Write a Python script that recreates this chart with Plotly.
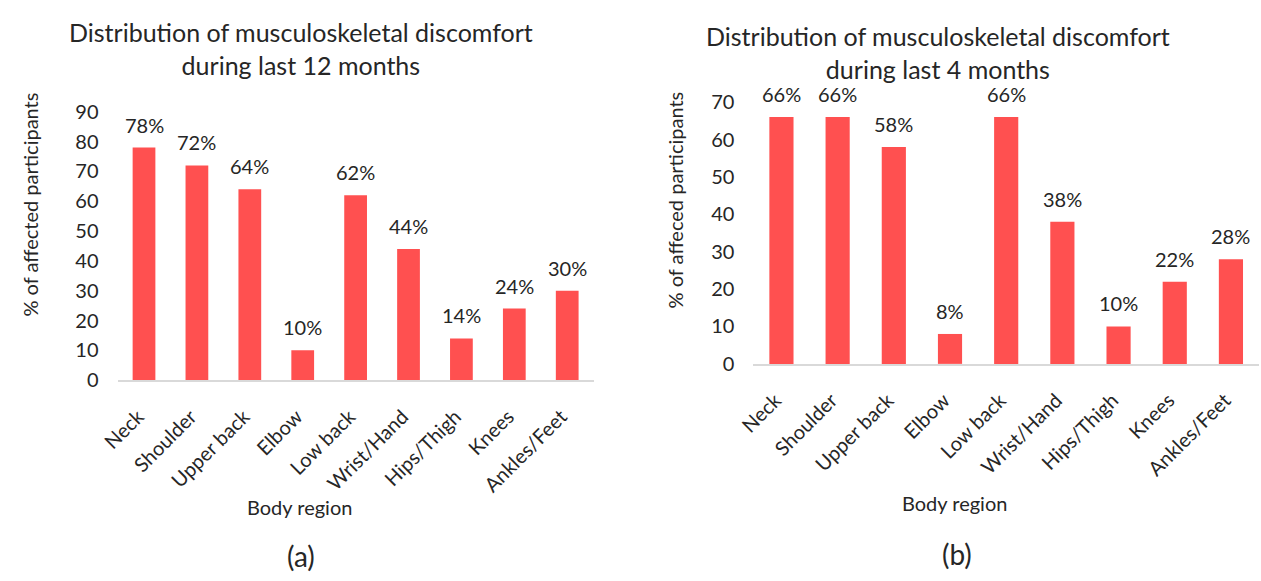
import plotly.graph_objects as go

regions = ["Neck", "Shoulder", "Upper back", "Elbow", "Low back",
           "Wrist/Hand", "Hips/Thigh", "Knees", "Ankles/Feet"]
pct_12_months = [78, 72, 64, 10, 62, 44, 14, 24, 30]
pct_4_months = [66, 66, 58, 8, 66, 38, 10, 22, 28]

title_a = "Distribution of musculoskeletal discomfort<br>during last 12 months"
title_b = "Distribution of musculoskeletal discomfort<br>during last 4 months"
ytitle_a = "% of affected participants"
ytitle_b = "% of affeced participants"
xtitle = "Body region"
ticks_a = [0, 10, 20, 30, 40, 50, 60, 70, 80, 90]
ticks_b = [0, 10, 20, 30, 40, 50, 60, 70]

W, H = 1261, 581
FONT = "Lato"
TXT = "#262626"
BAR = "#FF5050"

def px(x):
    return x / W

def py(y):
    return (H - y) / H

fig = go.Figure()
fig.add_trace(go.Bar(x=regions, y=pct_12_months, marker_color=BAR,
                     marker_line_width=0, xaxis="x", yaxis="y", showlegend=False))
fig.add_trace(go.Bar(x=regions, y=pct_4_months, marker_color=BAR,
                     marker_line_width=0, xaxis="x2", yaxis="y2", showlegend=False))

annotations = []
for r, v in zip(regions, pct_12_months):
    annotations.append(dict(x=r, y=v, xref="x", yref="y", text=f"{v}%",
                            showarrow=False, yanchor="bottom", yshift=9,
                            font=dict(family=FONT, size=20, color=TXT)))
for r, v in zip(regions, pct_4_months):
    annotations.append(dict(x=r, y=v, xref="x2", yref="y2", text=f"{v}%",
                            showarrow=False, yanchor="bottom", yshift=9,
                            font=dict(family=FONT, size=20, color=TXT)))

# titles
annotations += [
    dict(x=px(287), y=py(37), xref="paper", yref="paper", text=title_a,
         showarrow=False, xanchor="center", yanchor="middle",
         font=dict(family=FONT, size=25, color=TXT)),
    dict(x=px(933), y=py(41), xref="paper", yref="paper", text=title_b,
         showarrow=False, xanchor="center", yanchor="middle",
         font=dict(family=FONT, size=25, color=TXT)),
    dict(x=px(12), y=py(200), xref="paper", yref="paper", text=ytitle_a,
         showarrow=False, textangle=-90, xanchor="center", yanchor="middle",
         font=dict(family=FONT, size=20, color=TXT)),
    dict(x=px(666), y=py(195), xref="paper", yref="paper", text=ytitle_b,
         showarrow=False, textangle=-90, xanchor="center", yanchor="middle",
         font=dict(family=FONT, size=20, color=TXT)),
    dict(x=px(286), y=py(515), xref="paper", yref="paper", text=xtitle,
         showarrow=False, xanchor="center", yanchor="middle",
         font=dict(family=FONT, size=20, color=TXT)),
    dict(x=px(950), y=py(511), xref="paper", yref="paper", text=xtitle,
         showarrow=False, xanchor="center", yanchor="middle",
         font=dict(family=FONT, size=20, color=TXT)),
    dict(x=px(287), y=py(566), xref="paper", yref="paper", text="(a)",
         showarrow=False, xanchor="center", yanchor="middle",
         font=dict(family=FONT, size=28, color=TXT)),
    dict(x=px(953), y=py(564), xref="paper", yref="paper", text="(b)",
         showarrow=False, xanchor="center", yanchor="middle",
         font=dict(family=FONT, size=28, color=TXT)),
]

xaxis_common = dict(type="category", showgrid=False, zeroline=False,
                    showline=True, linecolor="#D9D9D9", linewidth=2,
                    tickangle=-45, ticks="outside", ticklen=15,
                    tickcolor="rgba(0,0,0,0)", ticklabelshift=-6,
                    tickfont=dict(family=FONT, size=20, color=TXT))
yaxis_common = dict(showgrid=False, zeroline=False, showline=False,
                    ticks="", ticklabelstandoff=18,
                    tickfont=dict(family=FONT, size=20, color=TXT))

fig.update_layout(
    width=W, height=H,
    margin=dict(l=0, r=0, t=0, b=0),
    paper_bgcolor="white", plot_bgcolor="white",
    bargap=0.57,
    xaxis=dict(domain=[px(101), px(584)], anchor="y", **xaxis_common),
    yaxis=dict(domain=[py(383), py(103)], range=[0, 90], tickvals=ticks_a,
               anchor="x", **yaxis_common),
    xaxis2=dict(domain=[px(746), px(1259)], anchor="y2", **xaxis_common),
    yaxis2=dict(domain=[py(366), py(93)], range=[0, 70], tickvals=ticks_b,
                anchor="x2", **yaxis_common),
    annotations=annotations,
    font=dict(family=FONT, color=TXT),
)

fig.write_html("out.html")
